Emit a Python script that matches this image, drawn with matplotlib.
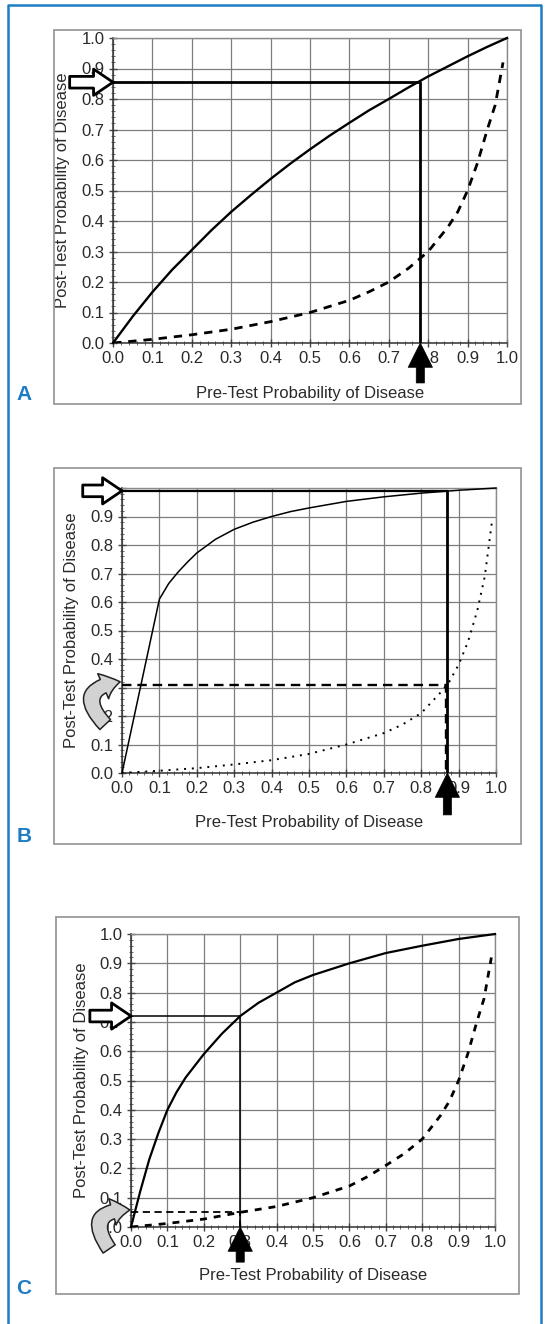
import numpy as np
import matplotlib.pyplot as plt
from matplotlib.lines import Line2D
from matplotlib.patches import Rectangle
from matplotlib.ticker import MultipleLocator

plt.rcParams['font.family'] = ['Liberation Sans', 'DejaVu Sans']

# panel A: moderate test
pre_a_pos = [0, 0.05, 0.1, 0.15, 0.2, 0.25, 0.3, 0.35, 0.4, 0.45, 0.5, 0.55, 0.6, 0.65,
             0.7, 0.75, 0.8, 0.85, 0.9, 0.95, 1.0]
post_a_pos = [0, 0.087, 0.167, 0.24, 0.305, 0.37, 0.43, 0.485, 0.538, 0.588, 0.635, 0.68,
              0.722, 0.763, 0.80, 0.838, 0.874, 0.907, 0.94, 0.971, 1.0]
pre_a_neg = [0, 0.05, 0.1, 0.2, 0.3, 0.4, 0.5, 0.6, 0.65, 0.7, 0.75, 0.8, 0.825, 0.85,
             0.875, 0.9, 0.925, 0.95, 0.97, 0.99]
post_a_neg = [0, 0.006, 0.012, 0.027, 0.045, 0.07, 0.10, 0.14, 0.168, 0.20, 0.245, 0.30,
              0.34, 0.38, 0.43, 0.50, 0.59, 0.70, 0.78, 0.92]
ref_a = [0.78, 0.855]

# panel B: strong positive test
pre_b_pos = [0, 0.1, 0.125, 0.15, 0.175, 0.2, 0.25, 0.3, 0.35, 0.4, 0.45, 0.5, 0.6, 0.7,
             0.8, 0.9, 1.0]
post_b_pos = [0, 0.61, 0.665, 0.705, 0.74, 0.772, 0.82, 0.855, 0.88, 0.90, 0.917, 0.93,
              0.953, 0.969, 0.982, 0.992, 1.0]
pre_b_neg = [0, 0.05, 0.1, 0.2, 0.3, 0.4, 0.5, 0.6, 0.7, 0.75, 0.8, 0.85, 0.875, 0.9,
             0.925, 0.95, 0.97, 0.99]
post_b_neg = [0, 0.004, 0.008, 0.017, 0.03, 0.045, 0.067, 0.10, 0.14, 0.17, 0.21, 0.28,
              0.32, 0.38, 0.46, 0.57, 0.69, 0.89]
ref_b_pos = [0.87, 0.99]
ref_b_neg = [0.865, 0.31]

# panel C: low pre-test probability
pre_c_pos = [0, 0.025, 0.05, 0.075, 0.1, 0.125, 0.15, 0.2, 0.25, 0.3, 0.35, 0.4, 0.45,
             0.5, 0.6, 0.7, 0.8, 0.9, 1.0]
post_c_pos = [0, 0.12, 0.23, 0.32, 0.40, 0.46, 0.51, 0.59, 0.66, 0.72, 0.765, 0.80, 0.835,
              0.86, 0.90, 0.935, 0.96, 0.983, 1.0]
pre_c_neg = [0, 0.05, 0.1, 0.2, 0.3, 0.4, 0.5, 0.6, 0.65, 0.7, 0.75, 0.8, 0.825, 0.85,
             0.875, 0.9, 0.925, 0.95, 0.97, 0.99]
post_c_neg = [0, 0.006, 0.012, 0.027, 0.05, 0.07, 0.10, 0.14, 0.172, 0.21, 0.25, 0.30,
              0.34, 0.38, 0.43, 0.50, 0.59, 0.70, 0.78, 0.92]
ref_c_pos = [0.30, 0.72]
ref_c_neg = [0.30, 0.05]

ticks = np.round(np.arange(0, 1.01, 0.1), 1)
tick_labels = ['%.1f' % t for t in ticks]

W, H = 545, 1324
BLUE = '#1c7cc4'
fig = plt.figure(figsize=(W / 100, H / 100), dpi=100)


def make_axes(x0, x1, y0, y1):
    return fig.add_axes([x0 / W, 1 - y1 / H, (x1 - x0) / W, (y1 - y0) / H])


def frame(x0, x1, y0, y1):
    fig.patches.append(Rectangle((x0 / W, 1 - y1 / H), (x1 - x0) / W, (y1 - y0) / H,
                                 transform=fig.transFigure, fill=False,
                                 ec='#9a9a9a', lw=1.3))


def style(ax, ylab_x, xlab_y, show_top=True):
    ax.set_xlim(0, 1)
    ax.set_ylim(0, 1)
    ax.set_xticks(ticks)
    ax.set_xticklabels(tick_labels)
    ax.set_yticks(ticks)
    ylabels = list(tick_labels)
    if not show_top:
        ylabels[-1] = ''
    ax.set_yticklabels(ylabels)
    ax.xaxis.set_minor_locator(MultipleLocator(0.02))
    ax.yaxis.set_minor_locator(MultipleLocator(0.02))
    ax.tick_params(which='major', direction='inout', length=6, width=1,
                   color='#444', labelsize=12, labelcolor='#2a2a2a', pad=3)
    ax.tick_params(which='minor', direction='inout', length=3.5, width=0.7,
                   color='#666')
    ax.grid(which='major', color='#7d7d7d', lw=0.9)
    ax.set_axisbelow(True)
    for side in ['left', 'bottom']:
        ax.spines[side].set_color('#333')
        ax.spines[side].set_linewidth(1.1)
    for side in ['top', 'right']:
        ax.spines[side].set_color('#8a8a8a')
        ax.spines[side].set_linewidth(1.0)
    ax.text(0.5, xlab_y, 'Pre-Test Probability of Disease', transform=ax.transAxes,
            ha='center', va='center', fontsize=12, color='#2a2a2a')
    ax.text(ylab_x, 0.5, 'Post-Test Probability of Disease', transform=ax.transAxes,
            ha='center', va='center', rotation=90, fontsize=12, color='#2a2a2a')


def hollow_arrow(ax, y, x_start):
    ax.annotate('', xy=(0, y), xytext=(x_start, y), annotation_clip=False, zorder=10,
                arrowprops=dict(arrowstyle='simple,head_length=1.0,head_width=1.35,tail_width=0.6',
                                mutation_scale=14, fc='white', ec='black', lw=2.0,
                                shrinkA=0, shrinkB=0))


def up_arrow(ax, x, y_start):
    ax.annotate('', xy=(x, 0), xytext=(x, y_start), annotation_clip=False, zorder=10,
                arrowprops=dict(arrowstyle='simple,head_length=1.25,head_width=1.25,tail_width=0.42',
                                mutation_scale=14, fc='black', ec='black', lw=0.5,
                                shrinkA=0, shrinkB=0))


def curved_arrow(ax, head, tail):
    ax.annotate('', xy=head, xytext=tail, annotation_clip=False, zorder=10,
                arrowprops=dict(arrowstyle='simple,head_length=0.9,head_width=1.4,tail_width=0.75',
                                mutation_scale=14, connectionstyle='arc3,rad=-0.95',
                                fc='#d2d2d2', ec='#222', lw=1.1, shrinkA=0, shrinkB=0))


# --- A ---
frame(54, 521, 30, 404)
ax = make_axes(113, 507, 38, 343)
style(ax, -0.129, -0.164)
ax.plot(pre_a_pos, post_a_pos, color='black', lw=1.7, clip_on=False, zorder=4)
ax.plot(pre_a_neg, post_a_neg, color='black', lw=2.0, ls=(0, (3, 2.5)), zorder=4)
ax.plot([0, ref_a[0], ref_a[0]], [ref_a[1], ref_a[1], 0], color='black', lw=2.0, zorder=5)
hollow_arrow(ax, ref_a[1], -0.11)
up_arrow(ax, ref_a[0], -0.131)

# --- B ---
frame(54, 521, 468, 844)
ax = make_axes(122, 496, 488, 773)
style(ax, -0.136, -0.175, show_top=False)
ax.plot(pre_b_pos, post_b_pos, color='black', lw=1.1, clip_on=False, zorder=4)
ax.plot(pre_b_neg, post_b_neg, color='black', lw=1.4, ls=(0, (1, 3)), zorder=4)
ax.plot([0, ref_b_pos[0]], [ref_b_pos[1], ref_b_pos[1]], color='black', lw=1.6, zorder=5)
ax.plot([ref_b_pos[0], ref_b_pos[0]], [ref_b_pos[1], 0], color='black', lw=2.0, zorder=5)
ax.plot([0, ref_b_neg[0], ref_b_neg[0]], [ref_b_neg[1], ref_b_neg[1], 0], color='black',
        lw=1.7, ls=(0, (4, 2.5)), zorder=5)
hollow_arrow(ax, ref_b_pos[1], -0.105)
up_arrow(ax, ref_b_pos[0], -0.147)
curved_arrow(ax, (-0.005, ref_b_neg[1] + 0.01), (-0.045, 0.17))

# --- C ---
frame(56, 519, 917, 1294)
ax = make_axes(131, 495, 934, 1227)
style(ax, -0.137, -0.164)
ax.plot(pre_c_pos, post_c_pos, color='black', lw=1.6, clip_on=False, zorder=4)
ax.plot(pre_c_neg, post_c_neg, color='black', lw=2.0, ls=(0, (2.5, 2.5)), zorder=4)
ax.plot([0, ref_c_pos[0], ref_c_pos[0]], [ref_c_pos[1], ref_c_pos[1], 0], color='black',
        lw=1.1, zorder=5)
ax.plot([0, ref_c_neg[0], ref_c_neg[0]], [ref_c_neg[1], ref_c_neg[1], 0], color='black',
        lw=1.3, ls=(0, (4, 2.5)), zorder=5)
hollow_arrow(ax, ref_c_pos[1], -0.113)
up_arrow(ax, ref_c_pos[0], -0.12)
curved_arrow(ax, (-0.003, ref_c_neg[1] + 0.008), (-0.06, -0.075))

# panel letters and outer border
for letter, y in [('A', 395), ('B', 836), ('C', 1289)]:
    fig.text(24 / W, 1 - y / H, letter, color=BLUE, fontsize=15, fontweight='bold',
             fontstretch='condensed', ha='center', va='center')
fig.lines.append(Line2D([8 / W, 8 / W, 541 / W, 541 / W], [0, 1 - 5 / H, 1 - 5 / H, 0],
                        transform=fig.transFigure, color=BLUE, lw=1.8))

fig.savefig('out.png', dpi=100, facecolor='white')
